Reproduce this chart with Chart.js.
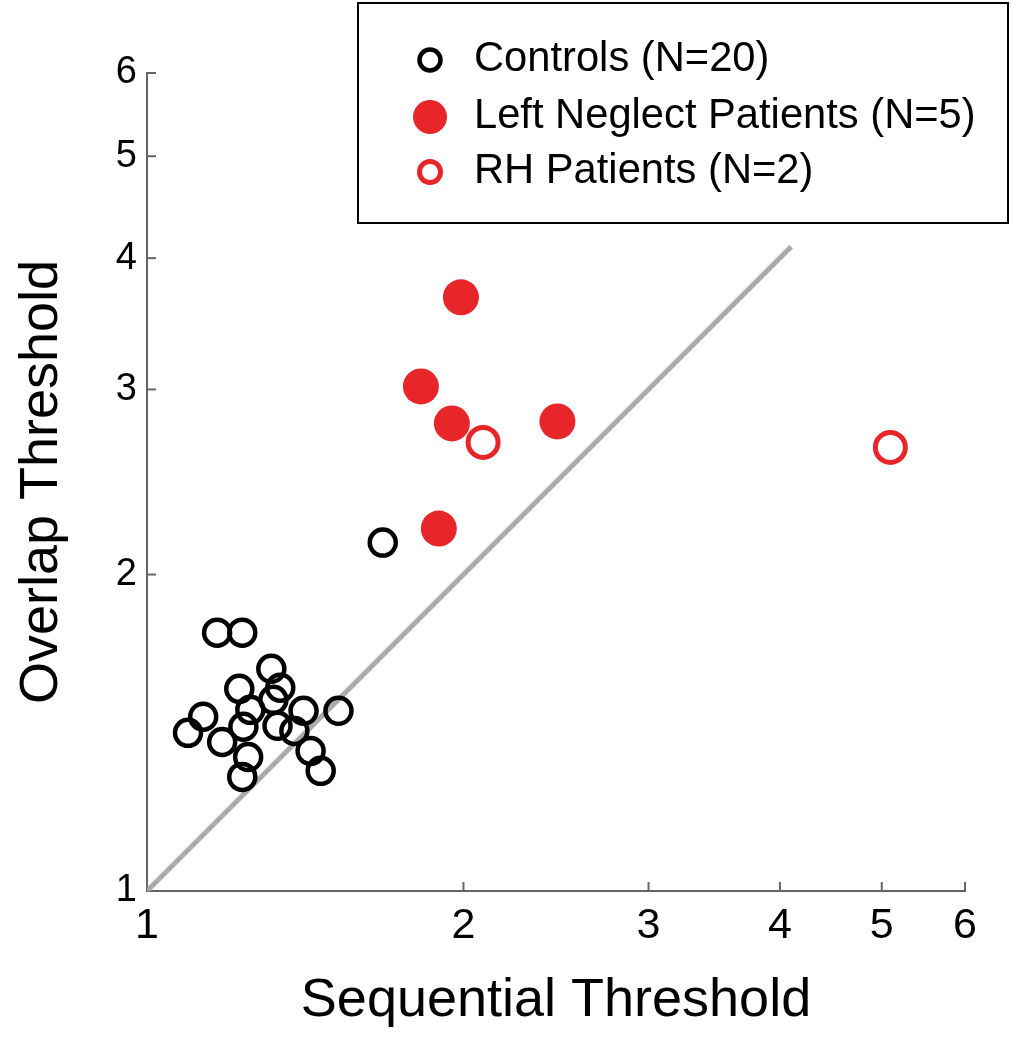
<!DOCTYPE html>
<html>
<head>
<meta charset="utf-8">
<script src="https://cdn.jsdelivr.net/npm/chart.js@4.4.1/dist/chart.umd.min.js"></script>
<style>
  html, body { margin: 0; padding: 0; background: #fff; }
</style>
</head>
<body>
<canvas id="chart" width="1012" height="1039"></canvas>
<script>
// values (log-log axes)
const tickValues = [1, 2, 3, 4, 5, 6];

const controlsX = [1.166, 1.232, 1.313, 1.224, 1.339, 1.319, 1.254, 1.409, 1.521, 1.131,
                   1.094, 1.179, 1.235, 1.331, 1.381, 1.431, 1.463, 1.248, 1.232, 1.676];
const controlsY = [1.761, 1.761, 1.627, 1.557, 1.561, 1.520, 1.487, 1.484, 1.484, 1.465,
                   1.414, 1.386, 1.433, 1.436, 1.420, 1.359, 1.301, 1.341, 1.284, 2.145];

const neglectX = [1.989, 1.822, 1.950, 2.457, 1.895];
const neglectY = [3.671, 3.020, 2.785, 2.797, 2.212];

const rhX = [2.088, 5.095];
const rhY = [2.671, 2.642];

const unityLine = [1, 4.1];

const FONT = '"Liberation Sans", Arial, Helvetica, sans-serif';
const RED = '#e8262a';

function pairs(xs, ys) {
    return xs.map((x, i) => ({x: x, y: ys[i]}));
}

// MATLAB style ticks pointing into the plot
const innerTicks = {
    id: 'innerTicks',
    afterDraw(chart) {
        const {ctx, chartArea, scales} = chart;
        ctx.save();
        ctx.strokeStyle = '#666';
        ctx.lineWidth = 2;
        tickValues.slice(1).forEach(v => {
            const px = scales.x.getPixelForValue(v);
            ctx.beginPath();
            ctx.moveTo(px, chartArea.bottom);
            ctx.lineTo(px, chartArea.bottom - 9);
            ctx.stroke();
            const py = scales.y.getPixelForValue(v);
            ctx.beginPath();
            ctx.moveTo(chartArea.left, py);
            ctx.lineTo(chartArea.left + 9, py);
            ctx.stroke();
        });
        ctx.restore();
    }
};

// boxed legend in the top right corner
const boxLegend = {
    id: 'boxLegend',
    afterDraw(chart) {
        const ctx = chart.ctx;
        const box = {x: 358, y: 3, w: 650, h: 220};
        ctx.save();
        ctx.fillStyle = '#fff';
        ctx.fillRect(box.x, box.y, box.w, box.h);
        ctx.strokeStyle = '#000';
        ctx.lineWidth = 2;
        ctx.strokeRect(box.x, box.y, box.w, box.h);

        const rows = [60, 117, 172];
        let r = 0;
        chart.data.datasets.forEach(ds => {
            if (!ds.inLegend) return;
            const cy = rows[r++];
            ctx.beginPath();
            ctx.arc(430, cy, ds.legendRadius, 0, Math.PI * 2);
            if (ds.legendFill) {
                ctx.fillStyle = ds.pointBackgroundColor;
                ctx.fill();
            } else {
                ctx.lineWidth = ds.pointBorderWidth;
                ctx.strokeStyle = ds.pointBorderColor;
                ctx.stroke();
            }
            ctx.fillStyle = '#000';
            ctx.font = '41.7px ' + FONT;
            ctx.textAlign = 'left';
            ctx.textBaseline = 'middle';
            ctx.fillText(ds.label, 474, cy);
        });
        ctx.restore();
    }
};

function axisOptions(title, isX) {
    return {
        type: 'logarithmic',
        min: 1,
        max: 6,
        afterBuildTicks: s => { s.ticks = tickValues.map(v => ({value: v})); },
        afterFit: s => {
            if (isX) s.height = 148; else s.width = 147;
        },
        grid: {display: false, drawTicks: false},
        border: {display: true, color: '#666', width: 2},
        ticks: {
            callback: v => String(v),
            color: '#000',
            font: {family: FONT, size: isX ? 43 : 38},
            padding: isX ? 9 : 10,
            autoSkip: false,
            maxRotation: 0
        },
        title: {
            display: true,
            text: title,
            color: '#000',
            font: {family: FONT, size: 54},
            padding: isX ? {top: 0, bottom: 5} : {top: 10, bottom: 0}
        }
    };
}

new Chart(document.getElementById('chart').getContext('2d'), {
    type: 'scatter',
    data: {
        datasets: [
            {
                label: 'Controls (N=20)',
                data: pairs(controlsX, controlsY),
                pointRadius: 13,
                pointBorderWidth: 4.5,
                pointBorderColor: '#000',
                pointBackgroundColor: 'rgba(0,0,0,0)',
                inLegend: true,
                legendRadius: 10.5,
                legendFill: false,
                order: 3
            },
            {
                label: 'Left Neglect Patients (N=5)',
                data: pairs(neglectX, neglectY),
                pointRadius: 18,
                pointBorderWidth: 0,
                pointBorderColor: RED,
                pointBackgroundColor: RED,
                inLegend: true,
                legendRadius: 17,
                legendFill: true,
                order: 2
            },
            {
                label: 'RH Patients (N=2)',
                data: pairs(rhX, rhY),
                pointRadius: 15,
                pointBorderWidth: 5,
                pointBorderColor: RED,
                pointBackgroundColor: 'rgba(0,0,0,0)',
                inLegend: true,
                legendRadius: 10.5,
                legendFill: false,
                order: 1
            },
            {
                type: 'line',
                label: 'unity',
                data: pairs(unityLine, unityLine),
                borderColor: '#aaaaaa',
                borderWidth: 5,
                pointRadius: 0,
                fill: false,
                order: 10
            }
        ]
    },
    options: {
        responsive: false,
        animation: false,
        events: [],
        layout: {padding: {top: 73, right: 47, left: 0, bottom: 0}},
        plugins: {
            legend: {display: false},
            tooltip: {enabled: false}
        },
        scales: {
            x: axisOptions('Sequential Threshold', true),
            y: axisOptions('Overlap Threshold', false)
        }
    },
    plugins: [innerTicks, boxLegend]
});
</script>
</body>
</html>
